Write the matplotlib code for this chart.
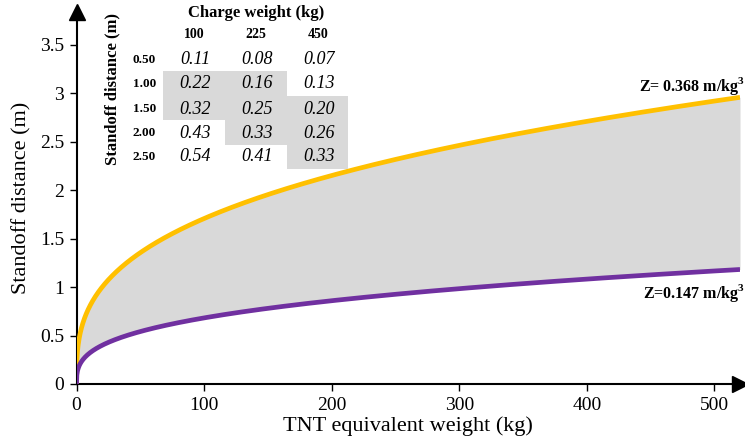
import matplotlib
matplotlib.use("Agg")
import matplotlib.pyplot as plt
import numpy as np
from matplotlib.patches import Rectangle

# ---------------------------------------------------------------------------
# Data
# ---------------------------------------------------------------------------
Z_UPPER = 0.368            # m/kg^(1/3)
Z_LOWER = 0.147
W_MAX = 520                # kg, end of plotted range

charge_weights = ["100", "225", "450"]
standoff_rows = ["0.50", "1.00", "1.50", "2.00", "2.50"]
z_table = [
    ["0.11", "0.08", "0.07"],
    ["0.22", "0.16", "0.13"],
    ["0.32", "0.25", "0.20"],
    ["0.43", "0.33", "0.26"],
    ["0.54", "0.41", "0.33"],
]
# cells shaded grey in the inset table
shaded = [
    [False, False, False],
    [True,  True,  False],
    [True,  True,  True],
    [False, True,  True],
    [False, False, True],
]

# ---------------------------------------------------------------------------
# Style
# ---------------------------------------------------------------------------
plt.rcParams["font.family"] = ["Liberation Serif", "DejaVu Serif"]
plt.rcParams["mathtext.fontset"] = "custom"
plt.rcParams["mathtext.rm"] = "Liberation Serif"
plt.rcParams["mathtext.bf"] = "Liberation Serif:bold"

YELLOW = "#FFC000"
PURPLE = "#7030A0"
FILL = "#D9D9D9"

W_PX, H_PX = 745, 445
fig = plt.figure(figsize=(W_PX / 100, H_PX / 100), dpi=100)


def px(x, y):
    """pixel (from top-left) -> figure fraction"""
    return x / W_PX, 1 - y / H_PX


ax = fig.add_axes([76.5 / W_PX, 61 / H_PX, (740 - 76.5) / W_PX, (384 - 12) / H_PX])

# scaled distance curves R = Z * W^(1/3)
w = np.linspace(0, W_MAX, 2000)
r_up = Z_UPPER * np.cbrt(w)
r_lo = Z_LOWER * np.cbrt(w)

ax.fill_between(w, r_lo, r_up, color=FILL, lw=0, zorder=1)
ax.plot(w, r_up, color=YELLOW, lw=3.4, zorder=3, solid_capstyle="butt")
ax.plot(w, r_lo, color=PURPLE, lw=3.4, zorder=3, solid_capstyle="butt")

ax.set_xlim(0, W_MAX)
ax.set_ylim(0, 3.84)
ax.set_xticks([0, 100, 200, 300, 400, 500])
ax.set_yticks([0, 0.5, 1, 1.5, 2, 2.5, 3, 3.5])
ax.set_yticklabels(["0", "0.5", "1", "1.5", "2", "2.5", "3", "3.5"])
ax.tick_params(direction="out", length=5, width=1, labelsize=14, pad=4)

for s in ["top", "right"]:
    ax.spines[s].set_visible(False)
for s in ["left", "bottom"]:
    ax.spines[s].set_linewidth(1.5)

# axis arrows
ax.plot(1, 0, marker=">", color="black", ms=11, transform=ax.transAxes, clip_on=False)
ax.plot(0, 1, marker="^", color="black", ms=11, transform=ax.transAxes, clip_on=False)

ax.set_xlabel("TNT equivalent weight (kg)", fontsize=16, labelpad=2)
ax.set_ylabel("Standoff distance (m)", fontsize=16, labelpad=6)

# curve labels
fig.text(*px(745, 86), r"Z= 0.368 m/kg$^\mathbf{3}$", ha="right", va="center",
         fontsize=11.5, fontweight="bold")
fig.text(*px(745, 293), r"Z=0.147 m/kg$^\mathbf{3}$", ha="right", va="center",
         fontsize=11.5, fontweight="bold")

# ---------------------------------------------------------------------------
# Inset table (scaled distance values)
# ---------------------------------------------------------------------------
col_edges = [163, 225, 287, 348]
row_edges = [47, 71, 96, 120, 145, 169]
col_x = [195, 257, 319]
row_y = [60, 84, 109, 133, 157]

for i, row in enumerate(shaded):
    for j, on in enumerate(row):
        if on:
            x0, y0 = px(col_edges[j], row_edges[i + 1])
            x1, y1 = px(col_edges[j + 1], row_edges[i])
            fig.add_artist(Rectangle((x0, y0), x1 - x0, y1 - y0,
                                     transform=fig.transFigure,
                                     facecolor=FILL, edgecolor="none", zorder=4))

fig.text(*px(256, 13), "Charge weight (kg)", ha="center", va="center",
         fontsize=12, fontweight="bold", zorder=5)
for j, lab in enumerate(charge_weights):
    fig.text(*px(col_x[j] - 1, 35), lab, ha="center", va="center",
             fontsize=10, fontweight="bold", zorder=5)
for i, lab in enumerate(standoff_rows):
    fig.text(*px(156, row_y[i]), lab, ha="right", va="center",
             fontsize=9.5, fontweight="bold", zorder=5)
    for j, val in enumerate(z_table[i]):
        fig.text(*px(col_x[j], row_y[i]), val, ha="center", va="center",
                 fontsize=13, fontstyle="italic", zorder=5)
fig.text(*px(112, 89), "Standoff distance (m)", ha="center", va="center",
         rotation=90, fontsize=12, fontweight="bold", zorder=5)

fig.savefig("out.png", dpi=100)
